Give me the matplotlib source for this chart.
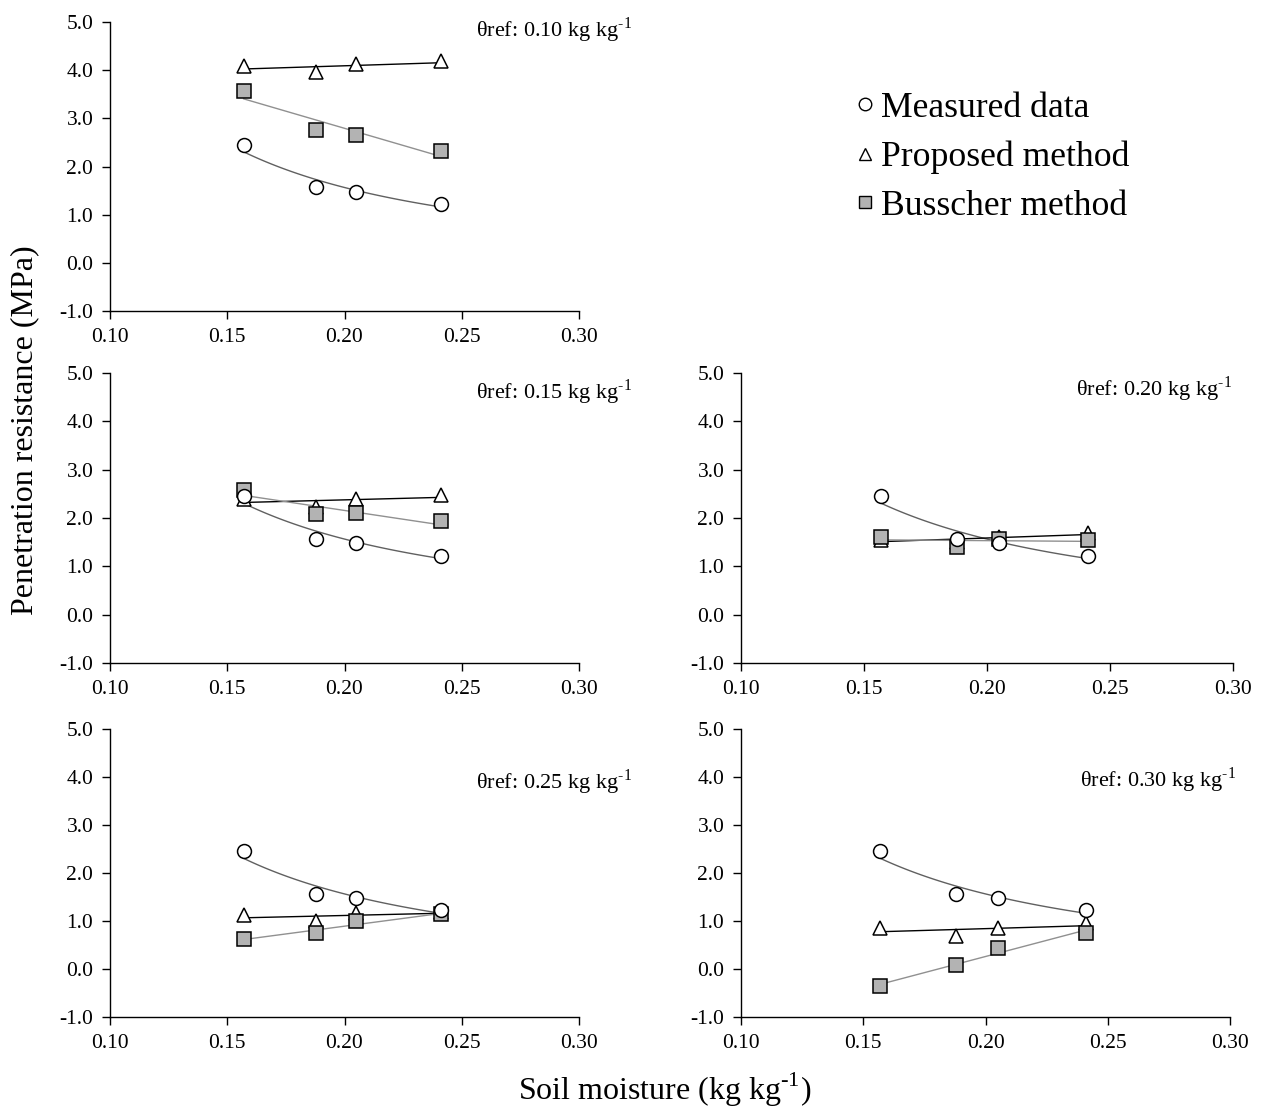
import numpy as np
import matplotlib.pyplot as plt
from matplotlib.lines import Line2D

plt.rcParams['font.family'] = ['Liberation Serif', 'DejaVu Serif']
plt.rcParams['mathtext.fontset'] = 'custom'
plt.rcParams['mathtext.rm'] = 'Liberation Serif'

# soil moisture of the samples (kg kg-1)
moisture = [0.157, 0.188, 0.205, 0.241]
measured = [2.45, 1.57, 1.48, 1.22]

theta_ref = ['0.10', '0.15', '0.20', '0.25', '0.30']
proposed = [
    [4.08, 3.97, 4.12, 4.18],
    [2.40, 2.23, 2.39, 2.47],
    [1.55, 1.50, 1.60, 1.68],
    [1.12, 0.99, 1.16, 1.18],
    [0.86, 0.69, 0.85, 0.95],
]
busscher = [
    [3.57, 2.75, 2.65, 2.33],
    [2.58, 2.08, 2.10, 1.93],
    [1.61, 1.41, 1.57, 1.54],
    [0.62, 0.76, 0.99, 1.14],
    [-0.35, 0.08, 0.43, 0.76],
]

# axes boxes [left, bottom, width, height] in figure fraction
W, H = 1264, 1117
boxes = [
    [110 / W, 1 - 311 / H, 469 / W, 289 / H],
    [110 / W, 1 - 663 / H, 469 / W, 290 / H],
    [741 / W, 1 - 663 / H, 492 / W, 290 / H],
    [110 / W, 1 - 1017 / H, 469 / W, 288 / H],
    [741 / W, 1 - 1017 / H, 489 / W, 288 / H],
]
# annotation anchor (right edge, centre) in axes fraction
ann_pos = [(1.113, 0.972), (1.113, 0.934), (0.998, 0.945), (1.113, 0.816), (1.012, 0.823)]

sup = r'$^{\mathregular{‐1}}$'

x = np.array(moisture)
xs = np.linspace(x.min(), x.max(), 100)

fig = plt.figure(figsize=(12.64, 11.17), dpi=100)

for i, box in enumerate(boxes):
    ax = fig.add_axes(box)
    # trend lines
    b, a = np.polyfit(np.log(x), np.log(measured), 1)
    ax.plot(xs, np.exp(a) * xs ** b, color='#606060', lw=1.0, zorder=2)
    p = np.polyfit(x, proposed[i], 1)
    ax.plot(xs, np.polyval(p, xs), color='black', lw=1.0, zorder=2)
    q = np.polyfit(x, busscher[i], 1)
    ax.plot(xs, np.polyval(q, xs), color='#909090', lw=1.0, zorder=2)

    ax.plot(x, proposed[i], ls='none', marker='^', ms=10.5, mfc='white', mec='black', mew=1.1, zorder=3)
    ax.plot(x, busscher[i], ls='none', marker='s', ms=10, mfc='#b3b3b3', mec='black', mew=1.1, zorder=4)
    ax.plot(x, measured, ls='none', marker='o', ms=10, mfc='white', mec='black', mew=1.1, zorder=5)

    ax.set_xlim(0.10, 0.30)
    ax.set_ylim(-1.0, 5.0)
    ax.set_xticks([0.10, 0.15, 0.20, 0.25, 0.30])
    ax.set_yticks(np.arange(-1, 5.1, 1))
    ax.xaxis.set_major_formatter(plt.FormatStrFormatter('%.2f'))
    ax.yaxis.set_major_formatter(plt.FormatStrFormatter('%.1f'))
    ax.tick_params(direction='out', length=6, width=1.0, labelsize=15.5, pad=6, colors='black')
    for s in ['top', 'right']:
        ax.spines[s].set_visible(False)
    for s in ['left', 'bottom']:
        ax.spines[s].set_linewidth(1.0)
    ax.patch.set_alpha(0)

    tx, ty = ann_pos[i]
    ax.text(tx, ty, 'θref: %s kg kg' % theta_ref[i] + sup, transform=ax.transAxes,
            ha='right', va='center', fontsize=16, clip_on=False)

handles = [
    Line2D([], [], ls='none', marker='o', ms=9, mfc='white', mec='black', mew=1.0),
    Line2D([], [], ls='none', marker='^', ms=9, mfc='white', mec='black', mew=1.0),
    Line2D([], [], ls='none', marker='s', ms=9, mfc='#b3b3b3', mec='black', mew=1.0),
]
fig.legend(handles, ['Measured data', 'Proposed method', 'Busscher method'],
           loc='upper left', bbox_to_anchor=(840 / W, 1 - 74 / H), frameon=False,
           fontsize=25.7, handlelength=0.4, handletextpad=0.25, labelspacing=0.44, borderpad=0)

fig.text(25 / W, 1 - 430 / H, 'Penetration resistance (MPa)', rotation=90, ha='center', va='center', fontsize=23)
fig.text(665 / W, 1 - 1090 / H, 'Soil moisture (kg kg' + sup + ')', ha='center', va='center', fontsize=23)

fig.savefig('out.png', dpi=100)
